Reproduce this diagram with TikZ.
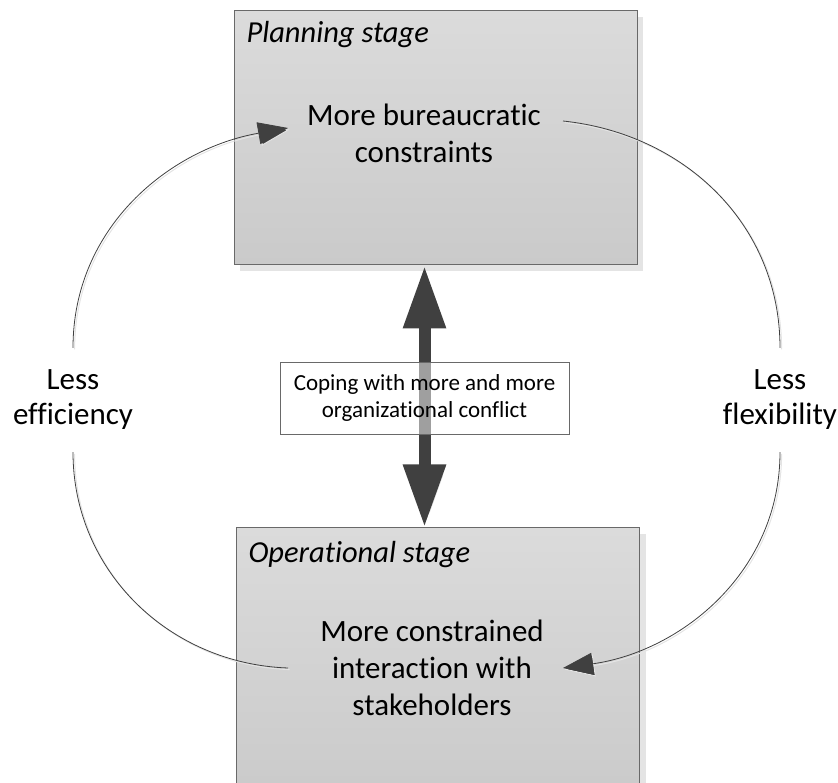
\documentclass[tikz,border=0pt]{standalone}
\usepackage{fontspec}
\setmainfont{Carlito}[Ligatures=NoCommon]
\usetikzlibrary{arrows.meta, shadows, positioning}

\definecolor{boxtop}{RGB}{219,219,219}
\definecolor{boxbottom}{RGB}{202,202,202}
\definecolor{boxline}{RGB}{105,105,105}
\definecolor{shadowgray}{RGB}{228,228,228}
\definecolor{arrowgray}{RGB}{64,64,64}

\begin{document}
\begin{tikzpicture}[x=1pt, y=1pt,
    stagebox/.style={draw=boxline, line width=1pt, top color=boxtop, bottom color=boxbottom,
        minimum width=403pt,
        drop shadow={shadow xshift=6pt, shadow yshift=-6pt, fill=shadowgray, opacity=1}},
    bigtext/.style={font=\fontsize{31}{37}\selectfont, align=center},
    titletext/.style={font=\fontsize{30.5}{37}\selectfont\itshape, anchor=base west},
    sidelabel/.style={font=\fontsize{31}{35}\selectfont, align=center, minimum height=104pt},
    conflictbox/.style={draw=boxline, line width=0.8pt, fill=white, fill opacity=0.5, text opacity=1,
        minimum width=289pt, minimum height=72pt, align=center, font=\fontsize{23}{27}\selectfont},
    bigarrow/.style={draw=arrowgray, line width=12pt,
        {Triangle[length=63pt, width=40pt]}-{Triangle[length=63pt, width=40pt]},
        preaction={draw=shadowgray, transform canvas={shift={(5pt, -5pt)}}}},
    loop/.style={draw=arrowgray, line width=0.8pt,
        preaction={draw=shadowgray, line width=1pt, transform canvas={shift={(1.6pt, -1.6pt)}}}},
    looptip/.style={-{Triangle[length=30pt, width=22pt, fill=arrowgray]}}]

    \useasboundingbox (0, 0) rectangle (838, 782);
    \clip (0, 0) rectangle (838, 782);

    % the two stages
    \node (plan) at (435.5, 644) [stagebox, minimum height=254pt] {};
    \node (ops) at (438, 118) [stagebox, minimum height=272pt] {};

    \node (plantitle) at (243, 739) [titletext] {Planning stage};
    \node (opstitle) at (245, 219) [titletext] {Operational stage};

    \node (plantext) at (424, 649) [bigtext] {More bureaucratic\\constraints};
    \node (opstext) at (432, 114) [bigtext] {More constrained\\interaction with\\stakeholders};

    % conflict in between
    \node (conflict) at (424.5, 384) [conflictbox] {};
    \draw [bigarrow] (plan.south -| conflict) -- (ops.north -| conflict);
    \node (conflictbox) at (conflict) [conflictbox] {Coping with more and more\\organizational conflict};

    % side loops
    \node (effic) at (73, 382) [sidelabel] {Less\\efficiency};
    \node (flexi) at (780, 382) [sidelabel] {Less\\flexibility};

    \coordinate (planin) at (288, 654);
    \coordinate (planout) at (563, 661);
    \coordinate (opsin) at (563, 114);
    \coordinate (opsout) at (288, 114);

    \draw [loop] (opsout) to [out=178, in=-90] (effic.south);
    \draw [loop, looptip] (effic.north) to [out=90, in=190] (planin);
    \draw [loop] (planout) to [out=-6, in=90] (flexi.north);
    \draw [loop, looptip] (flexi.south) to [out=-90, in=8] (opsin);

\end{tikzpicture}
\end{document}
